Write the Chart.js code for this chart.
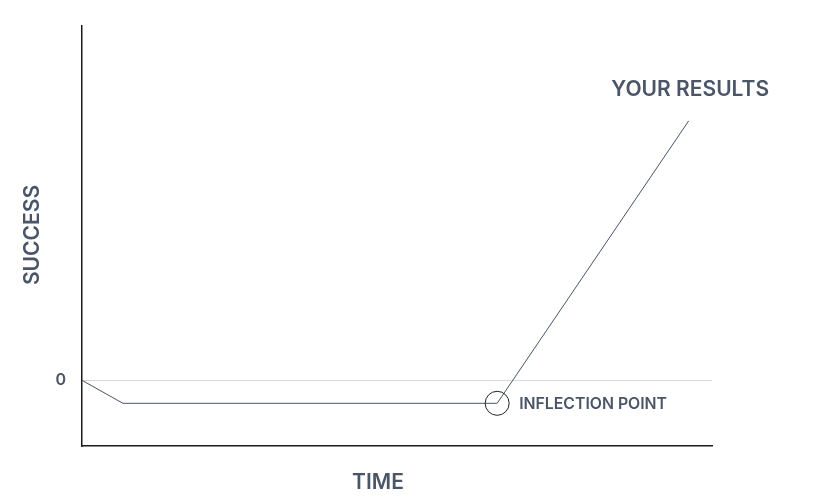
<!DOCTYPE html>
<html><head><meta charset="utf-8">
<script src="https://cdn.jsdelivr.net/npm/chart.js@4/dist/chart.umd.min.js"></script>
<style>html,body{margin:0;padding:0;background:#fff}#wrap{width:817px;height:496px}</style>
</head><body><div id="wrap"><canvas id="c" width="817" height="496"></canvas></div>
<script>
const timeValues = [0, 6.5, 65.9, 96.3];
const successValues = [0, -3.5, -3.5, 39.5];
const yTickLabels = [0];
const axisTitles = { x: 'TIME', y: 'SUCCESS' };
const pointLabels = { 2: 'INFLECTION POINT', 3: 'YOUR RESULTS' };

const TEXT = '#4a5568';
const FONT = 'Inter, "Noto Sans", sans-serif';

const labelPlugin = {
  id: 'labels',
  afterDraw(chart) {
    const ctx = chart.ctx, xs = chart.scales.x, ys = chart.scales.y;
    ctx.save();
    ctx.fillStyle = TEXT;
    ctx.textBaseline = 'middle';
    // inflection label
    let px = xs.getPixelForValue(timeValues[2]), py = ys.getPixelForValue(successValues[2]);
    ctx.font = '600 15.8px ' + FONT;
    ctx.textAlign = 'left';
    ctx.fillText(pointLabels[2], px + 22, py + 1);
    // results label
    px = xs.getPixelForValue(timeValues[3]); py = ys.getPixelForValue(successValues[3]);
    ctx.font = '600 21px ' + FONT;
    ctx.textAlign = 'center';
    ctx.fillText(pointLabels[3], px + 1.5, py - 31);
    // axis titles
    ctx.font = '600 21px ' + FONT;
    ctx.fillText(axisTitles.x, 378, 483);
    ctx.translate(33, 235);
    ctx.rotate(-Math.PI / 2);
    ctx.fillText(axisTitles.y, 0, 0);
    ctx.restore();
  }
};

new Chart(document.getElementById('c'), {
  type: 'line',
  data: {
    datasets: [{
      data: timeValues.map((t, i) => ({ x: t, y: successValues[i] })),
      borderColor: '#4a5568',
      borderWidth: 1,
      fill: false,
      tension: 0,
      pointRadius: [0, 0, 12, 0],
      pointHoverRadius: [0, 0, 12, 0],
      pointBackgroundColor: 'rgba(0,0,0,0)',
      pointBorderColor: '#222',
      pointBorderWidth: 1
    }]
  },
  options: {
    responsive: false,
    animation: false,
    events: [],
    layout: { padding: { top: 24, right: 105, left: 0, bottom: 0 } },
    plugins: { legend: { display: false }, tooltip: { enabled: false } },
    scales: {
      x: {
        type: 'linear', min: 0, max: 100,
        grid: { display: false },
        border: { display: true, color: '#1a1a1a', width: 1.5 },
        ticks: { display: false },
        afterFit(s) { s.height = 50; }
      },
      y: {
        type: 'linear', min: -10, max: 54,
        afterBuildTicks(s) { s.ticks = yTickLabels.map(v => ({ value: v })); },
        grid: { color: '#d9d9d9', drawTicks: false, lineWidth: 1 },
        border: { display: true, color: '#1a1a1a', width: 1.5 },
        ticks: { color: TEXT, font: { family: FONT, size: 16, weight: '600' }, padding: 16 },
        afterFit(s) { s.width = 82; }
      }
    }
  },
  plugins: [labelPlugin]
});
</script>
</body></html>
